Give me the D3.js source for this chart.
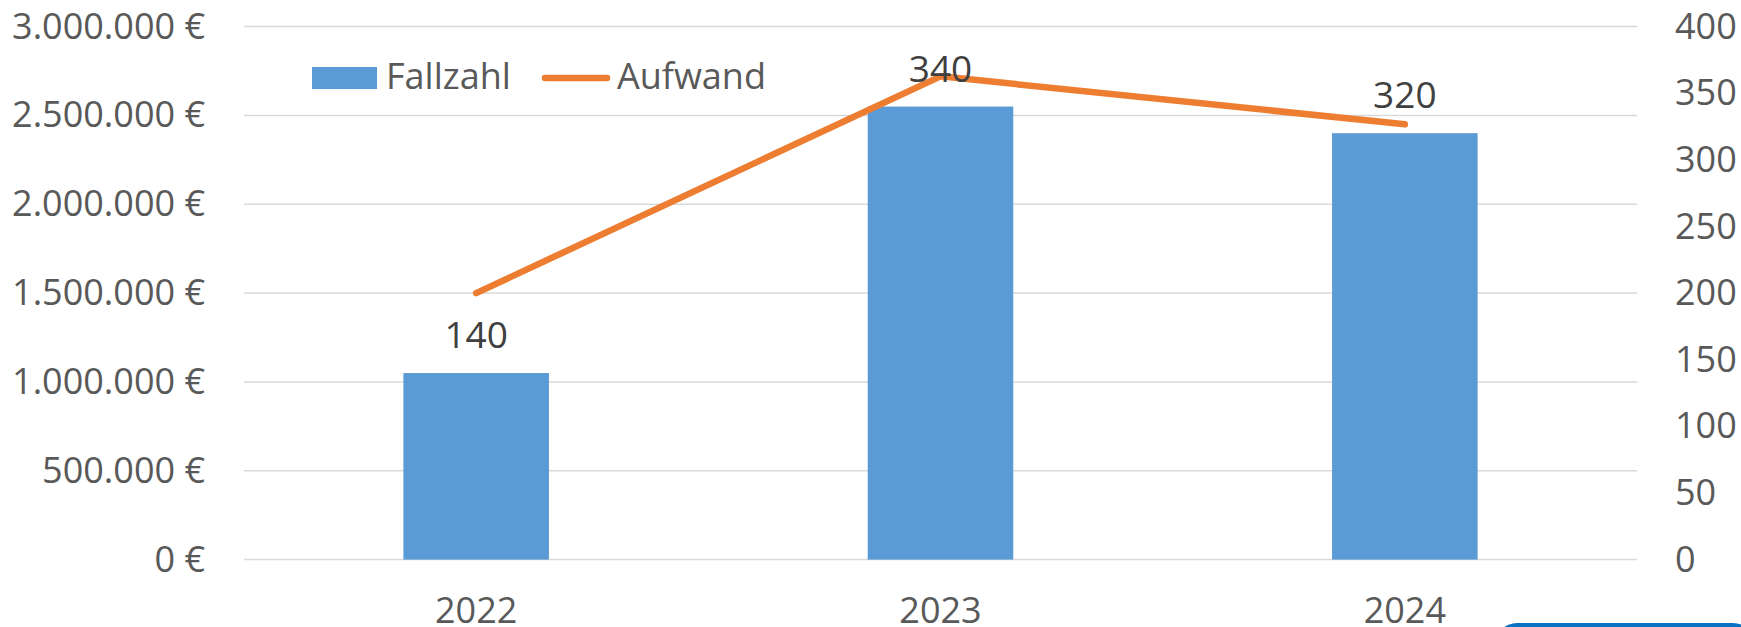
<!DOCTYPE html>
<html>
<head>
<meta charset="utf-8">
<script src="https://cdn.jsdelivr.net/npm/d3@7"></script>
<style>
  body { margin: 0; background: #fff; overflow: hidden; }
  svg { display: block; font-family: "Open Sans", "Noto Sans", sans-serif; }
</style>
</head>
<body>
<div id="chart"></div>
<script>
// data
const years = ["2022", "2023", "2024"];
const fallzahl = [140, 340, 320];                // bars, right axis
const aufwand = [1500000, 2720000, 2450000];     // line, left axis (€)
const leftTicks = [0, 500000, 1000000, 1500000, 2000000, 2500000, 3000000];
const rightTicks = [0, 50, 100, 150, 200, 250, 300, 350, 400];

const width = 1741, height = 627;
const plot = { left: 244, right: 1637, top: 26.6, bottom: 559.6 };

const svg = d3.select("#chart").append("svg")
  .attr("width", width)
  .attr("height", height);

const de = d3.formatLocale({ decimal: ",", thousands: ".", grouping: [3], currency: ["", " €"] });
const euro = de.format("$,.0f");

const x = d3.scaleBand().domain(years).range([plot.left, plot.right]).padding(0);
const yL = d3.scaleLinear().domain([0, 3000000]).range([plot.bottom, plot.top]);
const yR = d3.scaleLinear().domain([0, 400]).range([plot.bottom, plot.top]);
const barW = x.bandwidth() * 0.3135;

// gridlines
svg.append("g").selectAll("line")
  .data(leftTicks)
  .enter().append("line")
  .attr("x1", plot.left).attr("x2", plot.right)
  .attr("y1", d => yL(d)).attr("y2", d => yL(d))
  .attr("stroke", "#d9d9d9")
  .attr("stroke-width", 1.5);

// axes
const leftAxis = svg.append("g")
  .attr("transform", `translate(${plot.left},0)`)
  .call(d3.axisLeft(yL).tickValues(leftTicks).tickFormat(euro).tickSize(0).tickPadding(39));

const rightAxis = svg.append("g")
  .attr("transform", `translate(${plot.right},0)`)
  .call(d3.axisRight(yR).tickValues(rightTicks).tickSize(0).tickPadding(38));

const bottomAxis = svg.append("g")
  .attr("transform", `translate(0,${plot.bottom})`)
  .call(d3.axisBottom(x).tickSize(0).tickPadding(38));

[leftAxis, rightAxis, bottomAxis].forEach(a => {
  a.select(".domain").remove();
  a.selectAll("text")
    .attr("fill", "#595959")
    .style("font-size", "36px")
    .style("font-family", "'Open Sans', 'Noto Sans', sans-serif");
});

// bars
svg.append("g").selectAll("rect")
  .data(years)
  .enter().append("rect")
  .attr("x", d => x(d) + x.bandwidth() / 2 - barW / 2)
  .attr("y", (d, i) => yR(fallzahl[i]))
  .attr("width", barW)
  .attr("height", (d, i) => yR(0) - yR(fallzahl[i]))
  .attr("fill", "#5b9bd5");

// line
const line = d3.line()
  .x(d => x(d.year) + x.bandwidth() / 2)
  .y(d => yL(d.value));

svg.append("path")
  .datum(years.map((y, i) => ({ year: y, value: aufwand[i] })))
  .attr("d", line)
  .attr("fill", "none")
  .attr("stroke", "#ed7d31")
  .attr("stroke-width", 6.5)
  .attr("stroke-linecap", "round")
  .attr("stroke-linejoin", "round");

// data labels for bars
svg.append("g").selectAll("text")
  .data(years)
  .enter().append("text")
  .attr("x", d => x(d) + x.bandwidth() / 2)
  .attr("y", (d, i) => yR(fallzahl[i]) - 25)
  .attr("text-anchor", "middle")
  .attr("fill", "#404040")
  .style("font-size", "37px")
  .text((d, i) => fallzahl[i]);

// legend
const legend = svg.append("g");
legend.append("rect")
  .attr("x", 312).attr("y", 67)
  .attr("width", 65).attr("height", 22)
  .attr("fill", "#5b9bd5");
legend.append("text")
  .attr("x", 386).attr("y", 89)
  .attr("fill", "#595959")
  .style("font-size", "36px")
  .text("Fallzahl");
legend.append("line")
  .attr("x1", 545).attr("x2", 607)
  .attr("y1", 78).attr("y2", 78)
  .attr("stroke", "#ed7d31")
  .attr("stroke-width", 6.5)
  .attr("stroke-linecap", "round");
legend.append("text")
  .attr("x", 617).attr("y", 89)
  .attr("fill", "#595959")
  .style("font-size", "36px")
  .text("Aufwand");

// blue button edge peeking in at bottom right
svg.append("rect")
  .attr("x", 1495).attr("y", 623)
  .attr("width", 260).attr("height", 60)
  .attr("rx", 22)
  .attr("fill", "#0a72c2");
</script>
</body>
</html>
